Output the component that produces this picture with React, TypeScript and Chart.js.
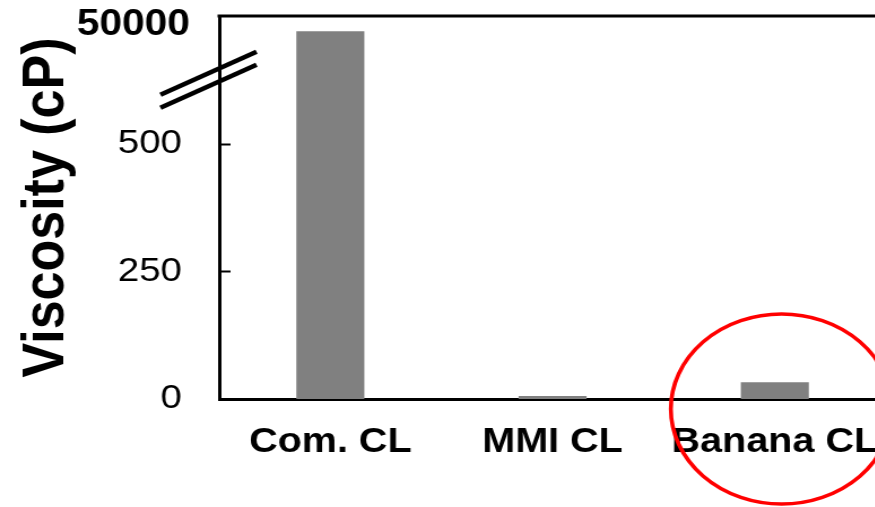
import { useEffect, useRef } from "react";
import { Chart, registerables } from "chart.js";

Chart.register(...registerables);

// ---- data ----
const categories = ["Com. CL", "MMI CL", "Banana CL"];
const viscosity = [50000, 6, 33]; // cP
const yTicks = [0, 250, 500];
const yMax = 750;
const breakThreshold = 600; // values above this go into the broken top segment
const brokenPlotValue = 720; // axis value where broken bars end
const breakLabel = "50000";
const breakLabelValue = 732;
const breakMarkValue = 625;
const highlightIndex = 2;

const FONT = "'Liberation Sans', Arial, sans-serif";
const STRETCH = 1.13;

const plotted = viscosity.map((v) => (v > breakThreshold ? brokenPlotValue : v));

const decorations = {
  id: "decorations",
  afterDraw(chart: any) {
    const { ctx, chartArea } = chart;
    const y = chart.scales.y;
    const x = chart.scales.x;
    ctx.save();
    ctx.strokeStyle = "#000";
    // top frame line
    ctx.lineWidth = 3;
    ctx.beginPath();
    ctx.moveTo(chartArea.left - 1.5, chartArea.top);
    ctx.lineTo(chartArea.right + 40, chartArea.top);
    ctx.stroke();
    // inward tick marks
    ctx.lineWidth = 2;
    y.ticks.forEach((t: any) => {
      if (t.value === 0) return;
      const py = Math.round(y.getPixelForValue(t.value)) + 0.5;
      ctx.beginPath();
      ctx.moveTo(chartArea.left, py);
      ctx.lineTo(chartArea.left + 10, py);
      ctx.stroke();
    });
    // axis break marks
    const by = y.getPixelForValue(breakMarkValue);
    const ax = chartArea.left;
    ctx.lineWidth = 4.5;
    [-6.5, 6.5].forEach((off) => {
      ctx.beginPath();
      ctx.moveTo(ax - 52, by + off + 21.5);
      ctx.lineTo(ax + 33, by + off - 21.5);
      ctx.stroke();
    });
    // break label
    ctx.fillStyle = "#000";
    ctx.font = `bold 36px ${FONT}`;
    ctx.textAlign = "right";
    ctx.textBaseline = "middle";
    ctx.fillText(breakLabel, ax - 26, y.getPixelForValue(breakLabelValue));
    // highlight ellipse
    const cx = x.getPixelForValue(highlightIndex) + 6;
    ctx.strokeStyle = "#ff0000";
    ctx.lineWidth = 3.6;
    ctx.beginPath();
    ctx.ellipse(cx, chartArea.bottom + 10, 98, 95, 0, 0, Math.PI * 2);
    ctx.stroke();
    ctx.restore();
  },
};

export default function App() {
  const ref = useRef<HTMLCanvasElement | null>(null);
  useEffect(() => {
    if (!ref.current) return;
    const chart = new Chart(ref.current, {
      type: "bar",
      data: {
        labels: categories,
        datasets: [
          {
            data: plotted,
            backgroundColor: "#808080",
            borderWidth: 0,
            categoryPercentage: 1,
            barPercentage: 0.306,
          },
        ],
      },
      options: {
        responsive: false,
        animation: false,
        devicePixelRatio: 1,
        layout: { padding: { top: 16, right: 16, left: 0, bottom: 0 } },
        plugins: {
          legend: { display: false },
          tooltip: { enabled: false },
        },
        scales: {
          x: {
            type: "category",
            grid: { display: false, drawTicks: false },
            border: { display: true, color: "#000", width: 3 },
            ticks: {
              color: "#000",
              font: { family: FONT, size: 35, weight: "bold" },
              padding: 22,
              maxRotation: 0,
              autoSkip: false,
            },
            afterFit: (s: any) => {
              s.height = 108;
              s.paddingLeft = 0;
              s.paddingRight = 0;
            },
          },
          y: {
            min: 0,
            max: yMax,
            grid: { display: false, drawTicks: false },
            border: { display: true, color: "#000", width: 3 },
            afterBuildTicks: (s: any) => {
              s.ticks = yTicks.map((v) => ({ value: v }));
            },
            ticks: {
              color: "#000",
              font: { family: FONT, size: 34 },
              padding: 33,
            },
            title: {
              display: true,
              text: "Viscosity (cP)",
              color: "#000",
              font: { family: FONT, size: 52, weight: "bold" },
              padding: { top: 10, bottom: 0 },
            },
            afterFit: (s: any) => {
              s.width = 194;
              s.paddingTop = 0;
              s.paddingBottom = 0;
            },
          },
        },
      },
      plugins: [decorations],
    });
    return () => chart.destroy();
  }, []);

  return (
    <div
      style={{
        position: "fixed",
        left: 0,
        top: 0,
        width: 875,
        height: 507,
        overflow: "hidden",
        background: "#fff",
      }}
    >
      <canvas
        ref={ref}
        width={800}
        height={507}
        style={{
          display: "block",
          width: 800,
          height: 507,
          transform: `scaleX(${STRETCH})`,
          transformOrigin: "0 0",
        }}
      />
    </div>
  );
}
